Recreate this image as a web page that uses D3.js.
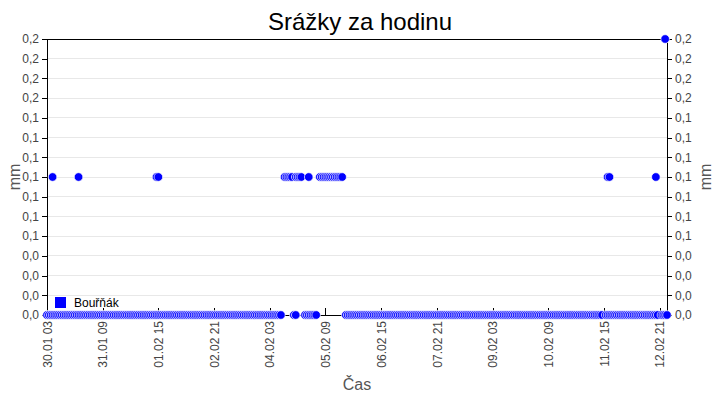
<!DOCTYPE html>
<html><head><meta charset="utf-8">
<script src="https://cdn.jsdelivr.net/npm/d3@7"></script>
<style>body{margin:0;background:#fff}svg{display:block}</style>
</head><body>
<script>
// ---- data (hour offsets from start time) ----
const startTime = "2024-01-30 03:00";
const endTime = "2024-02-13 01:00";
const seriesName = "Bouřňák";
// runs of hours where the value read is 0.0 mm
const zeroRuns = [[0,126],[133,134],[139,145],[161,299],[301,329],[331,334]];
// hours where the value read is 0.1 mm
const tenthHours = [3,17,59,60,128,129,130,131,132,134,135,136,137,141,147,148,149,150,151,152,153,154,155,156,157,158,159,302,303,328];
// hours where the value read is 0.2 mm
const fifthHours = [333];
const xTickLabels = ["30.01 03","31.01 09","01.02 15","02.02 21","04.02 03","05.02 09","06.02 15","07.02 21","09.02 03","10.02 09","11.02 15","12.02 21"];
const yTickLabels = ["0,0","0,0","0,0","0,0","0,1","0,1","0,1","0,1","0,1","0,1","0,1","0,2","0,2","0,2","0,2"];
const yMax = 0.2;

const W=720,H=400, m={l:47,r:53,t:39,b:85};
const iw=W-m.l-m.r, ih=H-m.t-m.b;
const parse=d3.timeParse("%Y-%m-%d %H:%M");
const t0=parse(startTime), t1=parse(endTime);
const hourTime=h=>d3.timeHour.offset(t0,h);

const points=[];
zeroRuns.forEach(([a,b])=>{for(let h=a;h<=b;h++)points.push({t:hourTime(h),v:0});});
tenthHours.forEach(h=>points.push({t:hourTime(h),v:0.1}));
fifthHours.forEach(h=>points.push({t:hourTime(h),v:0.2}));
points.sort((a,b)=>a.t-b.t);

const x=d3.scaleTime().domain([t0,t1]).range([0,iw]);
const y=d3.scaleLinear().domain([0,yMax]).range([ih,0]);
const yTicks=yTickLabels.map((_,i)=>i*yMax/(yTickLabels.length-1));
const xParse=d3.timeParse("%d.%m %H");
const xTicks=xTickLabels.map(s=>{const d=xParse(s);d.setFullYear(t0.getFullYear());return d;});

const FONT="'Liberation Sans',Arial,sans-serif";
const svg=d3.select("body").append("svg").attr("width",W).attr("height",H).style("font-family",FONT);
svg.append("text").attr("x",W/2).attr("y",30).attr("text-anchor","middle")
  .attr("font-size",24).attr("fill","#000").text("Srážky za hodinu");

const g=svg.append("g").attr("transform",`translate(${m.l},${m.t})`);
// grid
g.append("g").selectAll("line").data(yTicks).join("line")
  .attr("x1",0).attr("x2",iw).attr("y1",d=>y(d)).attr("y2",d=>y(d))
  .attr("stroke","#e8e8e8").attr("stroke-width",1).attr("shape-rendering","crispEdges");

const yl=g.append("g").call(d3.axisLeft(y).tickValues(yTicks).tickFormat((d,i)=>yTickLabels[i]).tickSize(5).tickPadding(3));
const yr=g.append("g").attr("transform",`translate(${iw},0)`).call(d3.axisRight(y).tickValues(yTicks).tickFormat((d,i)=>yTickLabels[i]).tickSize(5).tickPadding(3));
const xb=g.append("g").attr("transform",`translate(0,${ih})`).call(d3.axisBottom(x).tickValues(xTicks).tickSize(-7).tickFormat((d,i)=>xTickLabels[i]));
[yl,yr,xb].forEach(a=>{a.selectAll(".domain").remove();a.selectAll("text").attr("font-size",12).attr("fill","#444").style("font-family",FONT);a.selectAll("line").attr("stroke","#000").attr("shape-rendering","crispEdges");});
xb.selectAll("text").attr("transform","rotate(-90)").attr("text-anchor","end").attr("x",-6).attr("y",0).attr("dy","0.35em");
// frame
g.append("rect").attr("width",iw).attr("height",ih).attr("fill","none").attr("stroke","#000").attr("shape-rendering","crispEdges");

// points
g.append("g").selectAll("circle").data(points).join("circle")
  .attr("cx",d=>x(d.t)).attr("cy",d=>y(d.v)).attr("r",4.3)
  .attr("fill","#0000ff").attr("stroke","#fff").attr("stroke-width",0.7);

// legend
const lg=g.append("g").attr("transform",`translate(8,${ih-18})`);
lg.append("rect").attr("width",11).attr("height",11).attr("fill","#0000ff");
lg.append("text").attr("x",19).attr("y",9.5).attr("font-size",12).attr("fill","#000").text(seriesName);

// axis titles
svg.append("text").attr("transform",`translate(20,${m.t+ih/2}) rotate(-90)`).attr("text-anchor","middle")
  .attr("font-size",16).attr("fill","#555").text("mm");
svg.append("text").attr("transform",`translate(${W-9},${m.t+ih/2}) rotate(-90)`).attr("text-anchor","middle")
  .attr("font-size",16).attr("fill","#555").text("mm");
svg.append("text").attr("x",m.l+iw/2).attr("y",390).attr("text-anchor","middle")
  .attr("font-size",16).attr("fill","#555").text("Čas");
</script>
</body></html>
